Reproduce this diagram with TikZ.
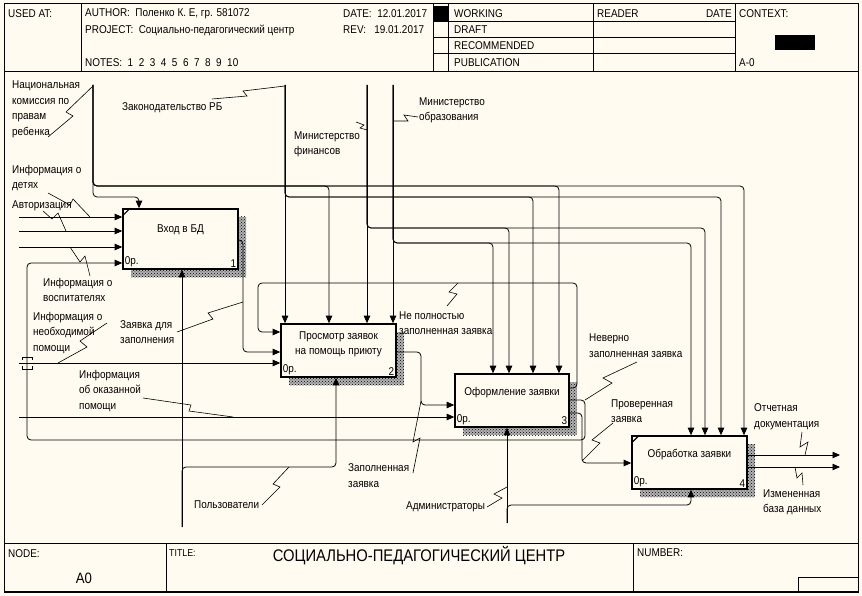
\documentclass[tikz,border=0pt]{standalone}
\usepackage{fontspec}
\setmainfont{Liberation Sans}[FakeStretch=0.88]
\usetikzlibrary{arrows.meta,patterns,shadows}

\definecolor{paper}{RGB}{255,251,240}

\begin{document}
\begin{tikzpicture}[x=1pt,y=-1pt,
  font=\fontsize{11.3}{15.5}\selectfont,
  func/.style={draw,line width=1.6pt,fill=paper,inner sep=0pt,minimum width=115pt,minimum height=53pt,
    general shadow={shadow xshift=8pt,shadow yshift=-8pt,fill=black!30},
    general shadow={shadow xshift=8pt,shadow yshift=-8pt,pattern=crosshatch dots,pattern color=black}},
  flow/.style={line width=.8pt,rounded corners=4pt,-{Triangle[length=7.5pt,width=6.5pt]}},
  squig/.style={line width=.6pt},
  lbl/.style={align=left,anchor=west,inner sep=0pt},
  frm/.style={line width=.8pt}
]
  \fill[paper] (0,0) rectangle (862,596);
  \useasboundingbox (0,0) rectangle (862,596);

  \draw[frm] (4,3) rectangle (858,592);
  \draw[frm] (4,71) -- (858,71) (4,543) -- (858,543);
  \draw[frm] (81,3) -- (81,71) (433,3) -- (433,71) (448,3) -- (448,71)
    (593,3) -- (593,71) (735,3) -- (735,71);
  \draw[frm] (433,21) -- (735,21) (433,37) -- (735,37) (433,53) -- (735,53);
  \draw[frm] (166,543) -- (166,592) (633,543) -- (633,592) (798,592) |- (858,577);
  \draw[line width=1.6pt] (4,592) -- (858,592);
  \fill (433,6) rectangle (448,21);
  \fill (775,35) rectangle (815,50);

  \node[lbl] (usedat) at (8,14) {USED AT:};
  \node[lbl] (author) at (85,14) {AUTHOR:\ \ Поленко К. Е, гр. 581072};
  \node[lbl] (project) at (85,30) {PROJECT:\ \ Социально-педагогический центр};
  \node[lbl] (notes) at (85,63) {NOTES:\ \ 1\ \ 2\ \ 3\ \ 4\ \ 5\ \ 6\ \ 7\ \ 8\ \ 9\ \ 10};
  \node[lbl] (date) at (343,14) {DATE:\ \ 12.01.2017};
  \node[lbl] (rev) at (343,30) {REV:\ \ \ 19.01.2017};
  \node[lbl] (working) at (454,14) {WORKING};
  \node[lbl] (draft) at (454,30) {DRAFT};
  \node[lbl] (recom) at (454,46) {RECOMMENDED};
  \node[lbl] (public) at (454,63) {PUBLICATION};
  \node[lbl] (reader) at (597,14) {READER};
  \node[lbl,anchor=east] (rdate) at (732,14) {DATE};
  \node[lbl] (context) at (739,14) {CONTEXT:};
  \node[lbl] (ctxnum) at (739,63) {A-0};

  \node[lbl] (nodehd) at (8,554) {NODE:};
  \node[font=\fontsize{15}{18}\selectfont] (nodenum) at (84,578) {A0};
  \node[lbl,font=\fontsize{10}{12}\selectfont] (titlehd) at (169,553) {TITLE:};
  \node[font=\fontsize{16.8}{20}\selectfont] (title) at (419,556) {СОЦИАЛЬНО-ПЕДАГОГИЧЕСКИЙ ЦЕНТР};
  \node[lbl] (numberhd) at (637,553) {NUMBER:};

  \node[func,minimum height=60pt] (b1) at (180.5,239) {};
  \node[func] (b2) at (338.5,350.5) {};
  \node[func,minimum width=114pt] (b3) at (512,400.5) {};
  \node[func] (b4) at (689.5,462.5) {};

  \node (t1) at ([yshift=9pt]b1.center) {Вход в БД};
  \node[align=center] (t2) at ([yshift=6pt]b2.center) {Просмотр заявок\\на помощь приюту};
  \node (t3) at ([yshift=7.5pt]b3.center) {Оформление заявки};
  \node (t4) at ([yshift=7.5pt]b4.center) {Обработка заявки};
  \foreach \b/\n in {b1/1,b2/2,b3/3,b4/4} {
    \node[anchor=south west,inner sep=2.5pt] at (\b.south west) {0р.};
    \node[anchor=south east,inner sep=2.5pt] at (\b.south east) {\n};
  }
  \draw[line width=1.2pt] ([yshift=-8pt]b1.north west) -- ([xshift=8pt]b1.north west);
  \draw[line width=1.2pt] ([yshift=-8pt]b4.north west) -- ([xshift=8pt]b4.north west);

  \coordinate (nkpr) at (93,85);
  \coordinate (zakon) at (285,85);
  \coordinate (minfin) at (367,85);
  \coordinate (minobr) at (393,85);
  \coordinate (infdet) at (19,217);
  \coordinate (avtor) at (19,231);
  \coordinate (infvosp) at (19,247);
  \coordinate (infneobh) at (19,363);
  \coordinate (infokaz) at (19,417);
  \coordinate (polz) at (182,527);
  \coordinate (admin) at (507,523);
  \coordinate (otchet) at (840,455);
  \coordinate (izmen) at (840,467);

  \draw[flow] (nkpr) -- (93,197) -- (139,197) -- (b1.north -| 139,0);
  \draw[flow] (nkpr) |- (329,186) -- (b2.north -| 329,0);
  \draw[flow] (nkpr) |- (559,186) -- (b3.north -| 559,0);
  \draw[flow] (nkpr) |- (744,186) -- (b4.north -| 744,0);
  \draw[flow] (zakon) -- (b2.north -| zakon);
  \draw[flow] (zakon) |- (533,197) -- (b3.north -| 533,0);
  \draw[flow] (zakon) |- (721,197) -- (b4.north -| 721,0);
  \draw[flow] (minfin) -- (b2.north -| minfin);
  \draw[flow] (minfin) |- (509,228) -- (b3.north -| 509,0);
  \draw[flow] (minfin) |- (705,228) -- (b4.north -| 705,0);
  \draw[flow] (minobr) -- (b2.north -| minobr);
  \draw[flow] (minobr) |- (493,243) -- (b3.north -| 493,0);
  \draw[flow] (minobr) |- (691,243) -- (b4.north -| 691,0);

  \draw[flow] (infdet) -- (b1.west |- infdet);
  \draw[flow] (avtor) -- (b1.west |- avtor);
  \draw[flow] (infvosp) -- (b1.west |- infvosp);
  \draw[flow] (infneobh) -- (b2.west |- infneobh);
  \draw[flow] (infokaz) -- (b3.west |- infokaz);

  \draw[flow] (b1.east |- 0,240) -- (243,240) -- (243,352) -- (b2.west |- 0,352);
  \draw[flow] (b2.east |- 0,352) -- (421,352) -- (421,405) -- (b3.west |- 0,405);
  \draw[flow] (b3.east |- 0,388) -- (577,388) -- (577,283) -- (258,283) -- (258,332) -- (b2.west |- 0,332);
  \draw[flow] (b3.east |- 0,400) -- (585,400) -- (585,440) -- (27,440) -- (27,263) -- (b1.west |- 0,263);
  \draw[flow] (b3.east |- 0,413) -- (582,413) -- (582,463) -- (b4.west |- 0,463);
  \draw[flow] (b4.east |- otchet) -- (otchet);
  \draw[flow] (b4.east |- izmen) -- (izmen);

  \draw[flow] (polz) -- (b1.south -| polz);
  \draw[flow] (polz) |- (336,467) -- (b2.south -| 336,0);
  \draw[flow] (admin) -- (b3.south -| admin);
  \draw[flow] (admin) |- (691,505) -- (b4.south -| 691,0);

  \draw[frm] (22,360) |- (32,357) -- (32,360) (22,366) |- (32,369) -- (32,366);

  \node[lbl] (lnkpr) at (12,109.5) {Национальная\\комиссия по\\правам\\ребенка};
  \node[lbl] (lzakon) at (122,108) {Законодательство РБ};
  \node[lbl] (lminfin) at (294,144.5) {Министерство\\финансов};
  \node[lbl] (lminobr) at (419,110.5) {Министерство\\образования};
  \node[lbl] (linfdet) at (12,178) {Информация о\\детях};
  \node[lbl] (lavtor) at (12,206) {Авторизация};
  \node[lbl] (linfvosp) at (43,290) {Информация о\\воспитателях};
  \node[lbl] (linfneobh) at (33,333) {Информация о\\необходимой\\помощи};
  \node[lbl] (lzdz) at (120,332) {Заявка для\\заполнения};
  \node[lbl] (linfokaz) at (79,391) {Информация\\об оказанной\\помощи};
  \node[lbl] (lpolz) at (194,505) {Пользователи};
  \node[lbl] (lnepoln) at (399,323) {Не полностью\\заполненная заявка};
  \node[lbl] (lzapoln) at (348,475.5) {Заполненная\\заявка};
  \node[lbl] (ladmin) at (406,507) {Администраторы};
  \node[lbl] (lneverno) at (589,345.5) {Неверно\\заполненная заявка};
  \node[lbl] (lprover) at (611,411) {Проверенная\\заявка};
  \node[lbl] (lotchet) at (754,416.5) {Отчетная\\документация};
  \node[lbl] (lizmen) at (763,502) {Измененная\\база данных};

  \draw[squig] (48,137) -- (73,116) -- (66,112) -- (93,86);
  \draw[squig] (212,99) -- (247,96) -- (243,91) -- (285,86);
  \draw[squig] (356,122) -- (364,125) -- (360,128) -- (367,130);
  \draw[squig] (393,121) -- (408,121) -- (404,115) -- (418,117);
  \draw[squig] (48,193) -- (70,205) -- (73,199) -- (90,217);
  \draw[squig] (43,211) -- (52,219) -- (58,213) -- (66,231);
  \draw[squig] (70,247) -- (80,262) -- (85,256) -- (90,276);
  \draw[squig] (107,323) -- (80,341) -- (87,347) -- (58,363);
  \draw[squig] (177,332) -- (213,319) -- (208,313) -- (243,302);
  \draw[squig] (143,398) -- (191,405) -- (189,411) -- (233,417);
  \draw[squig] (262,505) -- (280,487) -- (273,484) -- (289,467);
  \draw[squig] (447,306) -- (457,294) -- (449,292) -- (458,283);
  \draw[squig] (413,473) -- (420,438) -- (413,442) -- (421,401);
  \draw[squig] (487,507) -- (502,498) -- (494,494) -- (507,487);
  \draw[squig] (637,362) -- (603,378) -- (612,383) -- (585,400);
  \draw[squig] (613,423) -- (592,440) -- (600,443) -- (582,461);
  \draw[squig] (802,432) -- (800,447) -- (808,442) -- (805,455);
  \draw[squig] (795,467) -- (797,478) -- (802,473) -- (803,485);
\end{tikzpicture}
\end{document}
